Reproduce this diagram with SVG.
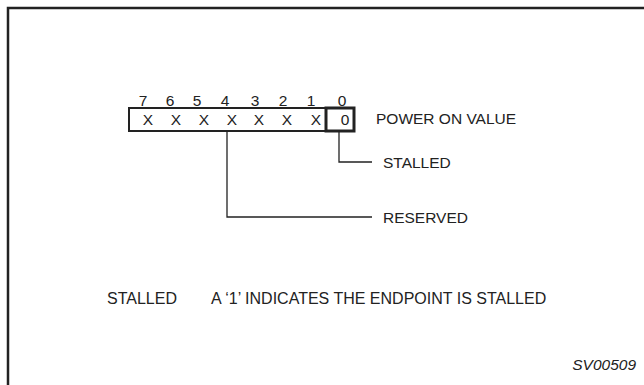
<svg xmlns="http://www.w3.org/2000/svg" width="644" height="385" viewBox="0 0 644 385">
<style>
text{font-family:"Liberation Sans",Arial,sans-serif;font-size:15.5px;fill:#222}
.c{text-anchor:middle}
.lg{font-size:16px}
.ln{fill:none;stroke:#222;stroke-width:1.3}
</style>
<rect width="644" height="385" fill="#fff"/>
<g id="frame"><path d="M8,385 V8 H644" fill="none" stroke="#222" stroke-width="2.5"/></g>
<g id="register">
<rect x="129" y="108" width="225" height="23" fill="none" stroke="#222" stroke-width="2"/>
<rect x="326" y="108" width="28" height="23" fill="none" stroke="#222" stroke-width="3"/>
<text class="c" x="143" y="106">7</text>
<text class="c" x="170" y="106">6</text>
<text class="c" x="197" y="106">5</text>
<text class="c" x="225" y="106">4</text>
<text class="c" x="255" y="106">3</text>
<text class="c" x="283" y="106">2</text>
<text class="c" x="311" y="106">1</text>
<text class="c" x="342" y="106">0</text>
<text class="c" x="148" y="125">X</text>
<text class="c" x="176" y="125">X</text>
<text class="c" x="204" y="125">X</text>
<text class="c" x="232" y="125">X</text>
<text class="c" x="259" y="125">X</text>
<text class="c" x="287" y="125">X</text>
<text class="c" x="316" y="125">X</text>
<text class="c" x="345" y="125">0</text>
<text x="376" y="124">POWER ON VALUE</text>
</g>
<g id="connectors">
<path class="ln" d="M339,131 V162 H372"/>
<path class="ln" d="M227,131 V217 H372"/>
</g>
<g id="stalled"><text x="383" y="168">STALLED</text></g>
<g id="reserved"><text x="383" y="223">RESERVED</text></g>
<g id="legend">
<text class="lg" x="107" y="304">STALLED</text>
<text class="lg" x="211" y="304">A ‘1’ INDICATES THE ENDPOINT IS STALLED</text>
</g>
<g id="figid"><text x="636" y="370" text-anchor="end" font-style="italic">SV00509</text></g>
</svg>
